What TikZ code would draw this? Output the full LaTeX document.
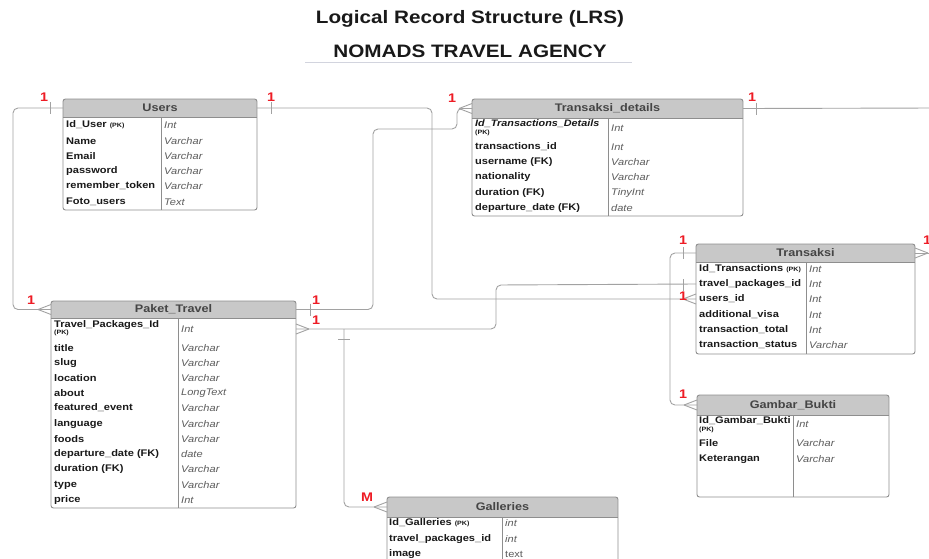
\documentclass[tikz,border=0pt]{standalone}
\usepackage{fontspec}
\setmainfont{Liberation Sans}[FakeStretch=1.15]
\usetikzlibrary{fit}

\definecolor{hdrfill}{HTML}{C8C8C8}
\definecolor{boxline}{HTML}{8E8E8E}
\definecolor{connline}{HTML}{A2A2A2}
\definecolor{hdrtext}{HTML}{454545}
\definecolor{typetext}{HTML}{5C5C5C}
\definecolor{cardred}{HTML}{EE1C25}
\definecolor{rulecol}{HTML}{D2D4DE}

\tikzset{
  tablebox/.style={draw=boxline, line width=0.9pt, rounded corners=2.5pt, inner sep=0pt, outer sep=0pt},
  hdrlabel/.style={font=\fontsize{11}{13}\selectfont\bfseries, text=hdrtext, inner sep=0pt},
  fieldname/.style={font=\fontsize{9.6}{11}\selectfont\bfseries, text=black!90, anchor=west, inner sep=0pt},
  pklabel/.style={font=\fontsize{6.2}{7}\selectfont\bfseries, text=black!90, anchor=west, inner sep=0pt},
  fieldtype/.style={font=\fontsize{9.6}{11}\selectfont\itshape, text=typetext, anchor=west, inner sep=0pt},
  conn/.style={draw=connline, line width=0.9pt, rounded corners=5pt},
  endmark/.style={draw=connline, line width=0.9pt},
  card/.style={font=\fontsize{12.5}{14}\selectfont\bfseries, text=cardred, inner sep=0pt},
  heading/.style={font=\fontsize{18}{20}\selectfont\bfseries, text=black!90, inner sep=0pt},
}

% small "(PK)" tag after a key name
\newcommand\pk{{\fontsize{6.2}{7}\selectfont (PK)}}

% table frame: #1 name, #2 x1, #3 y1, #4 x2, #5 y2, #6 header bottom, #7 column divider, #8 title
\newcommand\ertable[8]{%
  \begin{scope}
    \clip[rounded corners=2.5pt] (#2,#3) rectangle (#4,#5);
    \fill[hdrfill] (#2,#3) rectangle (#4,#6);
  \end{scope}
  \node[tablebox, fit={(#2,#3) (#4,#5)}] (#1) {};
  \draw[boxline, line width=0.9pt] (#2,#6) -- (#4,#6) (#7,#6) -- (#7,#5);
  \node[hdrlabel] (#1-t) at ({(#2+#4)/2},{(#3+#6)/2}) {#8};
}

% crow's foot at a box edge, line arriving from the left / from the right
\newcommand\crowL[1]{\draw[endmark] #1 ++(-13,0) -- ++(13,-5) #1 ++(-13,0) -- ++(13,5);}
\newcommand\crowR[1]{\draw[endmark] #1 ++(13,0) -- ++(-13,-5) #1 ++(13,0) -- ++(-13,5);}
% "one" bar across a horizontal / vertical line
\newcommand\barV[1]{\draw[endmark] #1 ++(0,-6) -- ++(0,12);}
\newcommand\barH[1]{\draw[endmark] #1 ++(-6,0) -- ++(12,0);}

\begin{document}
\begin{tikzpicture}[x=1pt,y=-1pt]
\useasboundingbox (0,0) rectangle (929,558);
\fill[white] (0,0) rectangle (929,558);

% headings
\node[heading] (title) at (470,19) {Logical Record Structure (LRS)};
\node[heading] (subtitle) at (470,51) {NOMADS TRAVEL AGENCY};
\draw[rulecol, line width=1.2pt] (305,62.5) -- (632,62.5);

% ---------------- Users
\ertable{users}{63}{99}{257}{210}{117}{161}{Users}
\node[fieldname] (u1) at (66,125) {Id\_User \pk};        \node[fieldtype] at (164,125) {Int};
\node[fieldname] (u2) at (66,141) {Name};                \node[fieldtype] at (164,141) {Varchar};
\node[fieldname] (u3) at (66,156) {Email};               \node[fieldtype] at (164,156) {Varchar};
\node[fieldname] (u4) at (66,171) {password};            \node[fieldtype] at (164,171) {Varchar};
\node[fieldname] (u5) at (66,186) {remember\_token};     \node[fieldtype] at (164,186) {Varchar};
\node[fieldname] (u6) at (66,202) {Foto\_users};         \node[fieldtype] at (164,202) {Text};

% ---------------- Transaksi_details
\ertable{td}{472}{99}{743}{216}{118}{608}{Transaksi\_details}
\node[fieldname, font=\fontsize{9.4}{11}\selectfont\bfseries\itshape] (td1) at (475,124) {Id\_Transactions\_Details};
\node[pklabel] at (475,133) {(PK)};                      \node[fieldtype] at (611,128) {Int};
\node[fieldname] (td2) at (475,147) {transactions\_id};  \node[fieldtype] at (611,147) {Int};
\node[fieldname] (td3) at (475,162) {username (FK)};     \node[fieldtype] at (611,162) {Varchar};
\node[fieldname] (td4) at (475,177) {nationality};       \node[fieldtype] at (611,177) {Varchar};
\node[fieldname] (td5) at (475,193) {duration (FK)};     \node[fieldtype] at (611,193) {TinyInt};
\node[fieldname] (td6) at (475,208) {departure\_date (FK)}; \node[fieldtype] at (611,208) {date};

% ---------------- Transaksi
\ertable{trx}{696}{244}{915}{354}{262}{806}{Transaksi}
\node[fieldname] (trx1) at (699,269) {Id\_Transactions \pk}; \node[fieldtype] at (809,269) {Int};
\node[fieldname] (trx-tp) at (699,284) {travel\_packages\_id}; \node[fieldtype] at (809,284) {Int};
\node[fieldname] (trx-users) at (699,299) {users\_id};    \node[fieldtype] at (809,299) {Int};
\node[fieldname] (trx4) at (699,315) {additional\_visa};  \node[fieldtype] at (809,315) {Int};
\node[fieldname] (trx5) at (699,330) {transaction\_total}; \node[fieldtype] at (809,330) {Int};
\node[fieldname] (trx6) at (699,345) {transaction\_status}; \node[fieldtype] at (809,345) {Varchar};

% ---------------- Paket_Travel
\ertable{pkt}{51}{301}{296}{508}{318}{178}{Paket\_Travel}
\node[fieldname] (p1) at (54,325) {Travel\_Packages\_Id};
\node[pklabel] at (54,333) {(PK)};                        \node[fieldtype] (pkt-int) at (181,329) {Int};
\node[fieldname] (p2) at (54,348) {title};                \node[fieldtype] at (181,348) {Varchar};
\node[fieldname] (p3) at (54,363) {slug};                 \node[fieldtype] at (181,363) {Varchar};
\node[fieldname] (p4) at (54,378) {location};             \node[fieldtype] at (181,378) {Varchar};
\node[fieldname] (p5) at (54,393) {about};                \node[fieldtype] at (181,393) {LongText};
\node[fieldname] (p6) at (54,408) {featured\_event};      \node[fieldtype] at (181,408) {Varchar};
\node[fieldname] (p7) at (54,424) {language};             \node[fieldtype] at (181,424) {Varchar};
\node[fieldname] (p8) at (54,439) {foods};                \node[fieldtype] at (181,439) {Varchar};
\node[fieldname] (p9) at (54,454) {departure\_date (FK)}; \node[fieldtype] at (181,454) {date};
\node[fieldname] (p10) at (54,469) {duration (FK)};       \node[fieldtype] at (181,469) {Varchar};
\node[fieldname] (p11) at (54,485) {type};                \node[fieldtype] at (181,485) {Varchar};
\node[fieldname] (p12) at (54,500) {price};               \node[fieldtype] at (181,500) {Int};

% ---------------- Gambar_Bukti
\ertable{gb}{697}{395}{889}{497}{415}{793}{Gambar\_Bukti}
\node[fieldname] (gb1) at (699,421) {Id\_Gambar\_Bukti};
\node[pklabel] at (699,430) {(PK)};                       \node[fieldtype] at (796,424) {Int};
\node[fieldname] (gb2) at (699,443) {File};               \node[fieldtype] at (796,443) {Varchar};
\node[fieldname] (gb3) at (699,459) {Keterangan};         \node[fieldtype] at (796,459) {Varchar};

% ---------------- Galleries
\ertable{gal}{387}{497}{618}{575}{517}{502}{Galleries}
\node[fieldname] (g1) at (389,523) {Id\_Galleries \pk};   \node[fieldtype] at (505,523) {int};
\node[fieldname] (g2) at (389,539) {travel\_packages\_id}; \node[fieldtype] at (505,539) {int};
\node[fieldname] (g3) at (389,554) {image};
\node[fieldtype, font=\fontsize{9.6}{11}\selectfont] at (505,554) {text};

% ---------------- relationships
\coordinate (gbranch) at (344,329);
\coordinate (tdout) at (935,108);
\coordinate (trxout) at (935,253);

% Users -- Paket_Travel
\draw[conn] (users.west |- users-t) -| (13,200) |- (pkt.west |- pkt-t);
\barV{(50,108)}
\crowL{(pkt.west |- pkt-t)}
\node[card] at (44,97) {1};
\node[card] at (31,300) {1};

% Users -- Transaksi.users_id
\draw[conn] (users.east |- users-t) -| (432,200) |- (trx.west |- trx-users);
\barV{(271,108)}
\crowL{(trx.west |- trx-users)}
\node[card] at (271,97) {1};
\node[card] at (683,296) {1};

% Paket_Travel -- Transaksi_details
\draw[conn] (pkt.east |- pkt-t) -- (373,309.5) -- (373,129) -- (457,129) -- (457,108.5) -- (td.west |- td-t);
\barV{(310,309.5)}
\crowL{(td.west |- td-t)}
\node[card] at (316,300) {1};
\node[card] at (452,98) {1};

% Paket_Travel -- Transaksi.travel_packages_id
\draw[conn] (pkt.east |- pkt-int) -- (496,329) -- (496,285) -- (trx.west |- trx-tp);
\crowR{(pkt.east |- pkt-int)}
\barV{(683,285)}
\node[card] at (316,320) {1};

% Paket_Travel -- Galleries
\draw[conn] (gbranch) |- (gal.west |- gal-t);
\barH{(344,339)}
\crowL{(gal.west |- gal-t)}
\node[card] at (367,497) {M};

% Transaksi_details -- (continues to the right)
\draw[conn] (td.east |- td-t) -- (tdout);
\barV{(756,108.5)}
\node[card] at (752,97) {1};

% Transaksi -- (continues to the right)
\draw[conn] (trx.east |- trx-t) -- (trxout);
\crowR{(trx.east |- trx-t)}
\node[card, anchor=west] at (923,240) {1};

% Transaksi -- Gambar_Bukti
\draw[conn] (trx.west |- trx-t) -| (670,330) |- (gb.west |- gb-t);
\barV{(683,253)}
\crowL{(gb.west |- gb-t)}
\node[card] at (683,240) {1};
\node[card] at (683,394) {1};

\end{tikzpicture}
\end{document}
